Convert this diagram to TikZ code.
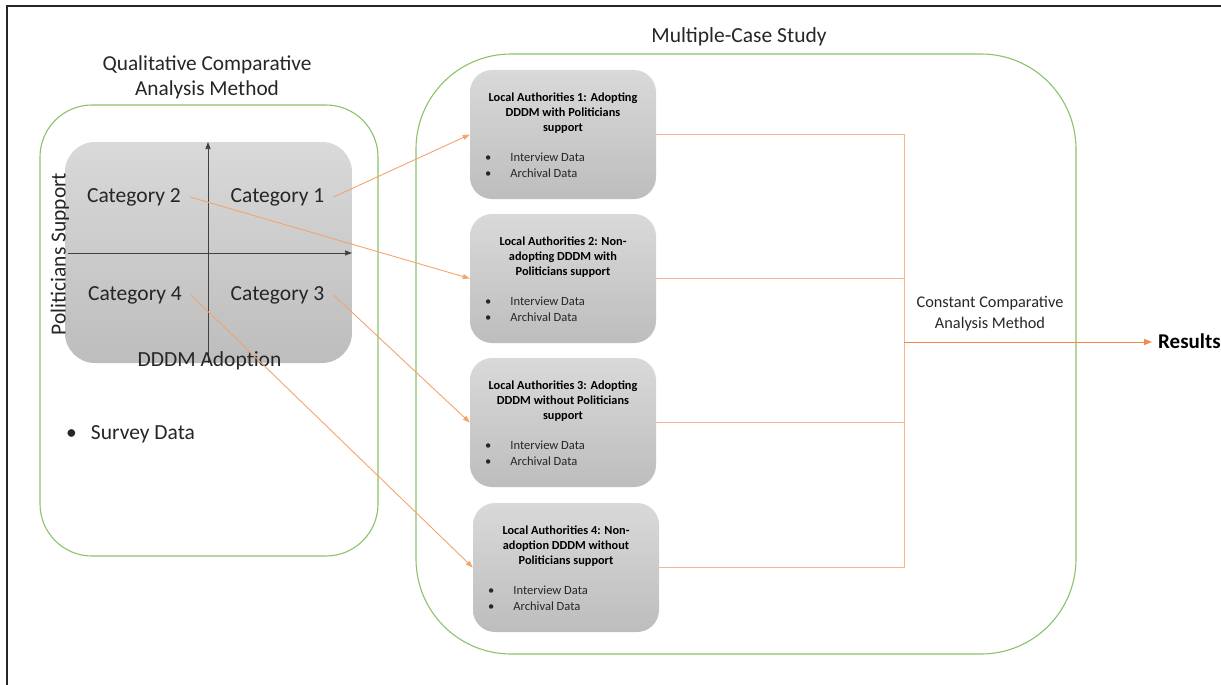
\documentclass[tikz,border=0pt]{standalone}
\usepackage{fontspec}
\setmainfont{Carlito}
\usetikzlibrary{arrows.meta,calc}

\definecolor{framecol}{HTML}{262626}
\definecolor{grn}{HTML}{8CC26A}
\definecolor{lineor}{HTML}{F6B58A}
\definecolor{arror}{HTML}{F4A46C}
\definecolor{resor}{HTML}{EE8A4A}
\definecolor{boxtop}{HTML}{D9D9D9}
\definecolor{boxbot}{HTML}{BDBDBD}
\definecolor{txt}{HTML}{262626}

\tikzset{
  frameline/.style={draw=framecol, line width=1.3pt},
  grnbox/.style={draw=grn, line width=1.1pt, rectangle, inner sep=0pt},
  graybox/.style={rectangle, inner sep=0pt, top color=boxtop, bottom color=boxbot, draw=none},
  bigtxt/.style={font=\fontsize{21.5}{25}\selectfont, text=txt, inner sep=2pt},
  cattxt/.style={bigtxt, inner xsep=9pt},
  midtxt/.style={font=\fontsize{16.3}{21}\selectfont, text=txt, align=center, inner sep=0pt},
  casetitle/.style={font=\bfseries\fontsize{12.3}{15}\selectfont, text=black, align=center, inner sep=0pt},
  caseitem/.style={font=\fontsize{12.5}{15}\selectfont, text=txt, anchor=west, inner sep=0pt},
  axis/.style={draw=black!75, line width=0.7pt, -{Triangle[length=7pt,width=5pt]}},
  feed/.style={draw=lineor, line width=0.9pt},
  catarrow/.style={draw=arror, line width=0.9pt, -{Triangle[length=7pt,width=5pt]}},
  resarrow/.style={draw=resor, line width=1pt, -{Triangle[length=8pt,width=6pt]}},
}

\begin{document}
\begin{tikzpicture}[x=1pt,y=-1pt]
\useasboundingbox (0,0) rectangle (1221,685);

% outer frame (top and left edges)
\draw[frameline] (1221,6) -- (7,6) -- (7,685);

% ---------- Qualitative Comparative Analysis panel ----------
\node[midtxt, font=\fontsize{21.3}{25}\selectfont] (qcatitle) at (207,77)
  {Qualitative Comparative\\Analysis Method};
\node[grnbox, rounded corners=52pt, minimum width=338pt, minimum height=451pt]
  (qca) at (209,330.5) {};
\node[graybox, rounded corners=30pt, minimum width=287pt, minimum height=221pt]
  (grid) at (208.5,252.5) {};

% axes
\coordinate (xaxL) at (68,253);
\coordinate (xaxR) at (352,253);
\coordinate (yaxB) at (208,363);
\coordinate (yaxT) at (208,142);
\draw[axis] (xaxL) -- (xaxR);
\draw[axis] (yaxB) -- (yaxT);

\node[cattxt] (cat2) at (134,197) {Category 2};
\node[cattxt] (cat1) at (277.5,197) {Category 1};
\node[cattxt] (cat4) at (135,295) {Category 4};
\node[cattxt] (cat3) at (277.5,295) {Category 3};

\node[bigtxt, rotate=90] (ylab) at (60,254) {Politicians Support};
\node[bigtxt] (xlab) at (209.5,361) {DDDM Adoption};

\node[bigtxt, anchor=west] (survey) at (64,434) {\textbullet\hspace{14pt}Survey Data};

% ---------- Multiple-Case Study panel ----------
\node[bigtxt] (mcstitle) at (739,37) {Multiple-Case Study};
\node[grnbox, rounded corners=95pt, minimum width=660pt, minimum height=600pt]
  (mcs) at (746,354) {};

% case boxes
\node[graybox, rounded corners=22pt, minimum width=186pt, minimum height=129pt] (c1) at (563,134.5) {};
\node[graybox, rounded corners=22pt, minimum width=186pt, minimum height=129pt] (c2) at (563,278.5) {};
\node[graybox, rounded corners=22pt, minimum width=186pt, minimum height=129pt] (c3) at (563,422.5) {};
\node[graybox, rounded corners=22pt, minimum width=186pt, minimum height=129pt] (c4) at (566,567.5) {};

\node[casetitle] (t1) at (563,113.5) {Local Authorities 1: Adopting\\DDDM with Politicians\\support};
\node[casetitle] (t2) at (563,257.5) {Local Authorities 2: Non-\\adopting DDDM with\\Politicians support};
\node[casetitle] (t3) at (563,401.5) {Local Authorities 3: Adopting\\DDDM without Politicians\\support};
\node[casetitle] (t4) at (566,546.5) {Local Authorities 4: Non-\\adoption DDDM without\\Politicians support};

\foreach \n/\bx/\by in {1/485/157, 2/485/301, 3/485/445, 4/488/590}{
  \node[caseitem] (i\n a) at (\bx,\by) {\textbullet\hspace{19pt}Interview Data};
  \node[caseitem] (i\n b) at (\bx,\by+16) {\textbullet\hspace{19pt}Archival Data};
}

% category -> case links
\draw[catarrow] (cat1.east) -- (c1.west);
\draw[catarrow] (cat2.east) -- (c2.west);
\draw[catarrow] (cat3.east) -- (c3.west);
\draw[catarrow] (cat4.east) -- (c4.west);

% cross-case comparison
\coordinate (join) at (904,342);
\draw[feed] (c1.east) -| (join);
\draw[feed] (c2.east) -| (join);
\draw[feed] (c3.east) -| (join);
\draw[feed] (c4.east) -| (join);

\node[midtxt] (ccam) at (990,314) {Constant Comparative\\Analysis Method};
\node[font=\bfseries\fontsize{21}{25}\selectfont, text=black, inner sep=0pt, anchor=west] (res) at (1158,341) {Results};
\draw[resarrow, shorten >=6pt] (join) -- (join -| res.west);

\end{tikzpicture}
\end{document}
